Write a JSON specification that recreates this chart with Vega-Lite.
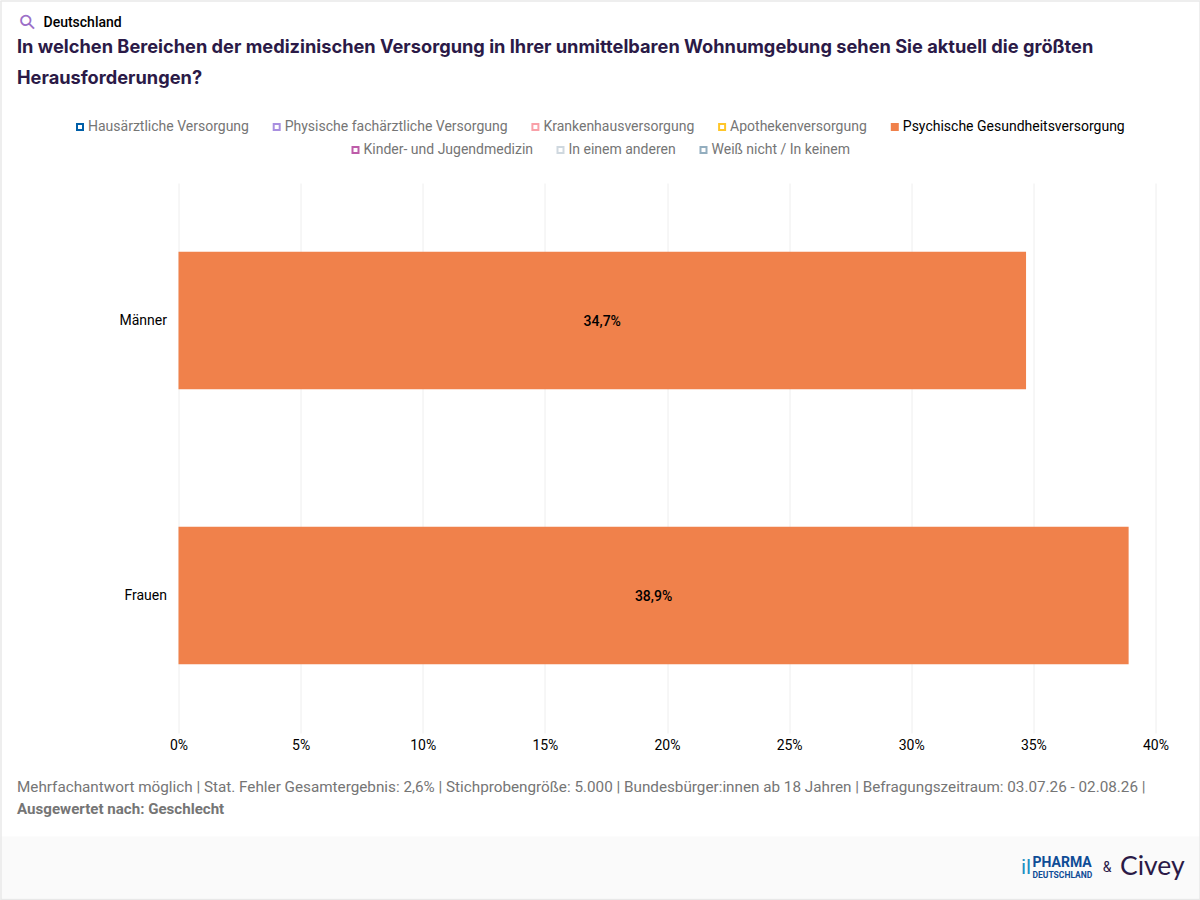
{
  "$schema": "https://vega.github.io/schema/vega-lite/v6.json",
  "autosize": "none",
  "background": "white",
  "padding": {"left": 178.5, "top": 183, "right": 44.5, "bottom": 167},
  "width": 977,
  "height": 550,
  "title": {
    "text": ["In welchen Bereichen der medizinischen Versorgung in Ihrer unmittelbaren Wohnumgebung sehen Sie aktuell die größten", "Herausforderungen?"],
    "anchor": "start",
    "frame": "group",
    "dx": -161.5,
    "offset": -88,
    "font": "Inter",
    "fontSize": 18.23,
    "fontWeight": 700,
    "color": "#2B1A47",
    "lineHeight": 31
  },
  "data": {
    "values": [
      {"gruppe": "Männer", "kategorie": "Psychische Gesundheitsversorgung", "wert": 34.7, "beschriftung": "34,7%"},
      {"gruppe": "Frauen", "kategorie": "Psychische Gesundheitsversorgung", "wert": 38.9, "beschriftung": "38,9%"}
    ]
  },
  "resolve": {"scale": {"x": "independent"}, "axis": {"x": "independent"}},
  "layer": [
    {
      "data": {"values": []},
      "mark": "rule",
      "encoding": {
        "x": {"field": "p", "type": "quantitative", "scale": {"domain": [0, 1], "range": [-178.5, 1021.5]},
          "axis": {"orient": "bottom", "offset": 134, "domainColor": "#FAFAFA", "domainWidth": 62, "ticks": false, "labels": false, "grid": false, "title": null}}
      }
    },
    {
      "data": {"values": []},
      "mark": "rule",
      "encoding": {
        "x": {"field": "p", "type": "quantitative", "scale": {"domain": [0, 1], "range": [-178.5, 1021.5]},
          "axis": {"orient": "top", "offset": 182.5, "domainColor": "#E8E8E8", "domainWidth": 1.5, "values": [0.0006, 0.9994], "tickColor": "#E8E8E8", "tickWidth": 1.5, "tickSize": -900, "labels": false, "grid": false, "title": null}}
      }
    },
    {
      "data": {"values": []},
      "mark": "rule",
      "encoding": {
        "x": {"field": "p", "type": "quantitative", "scale": {"domain": [0, 1], "range": [-178.5, 1021.5]},
          "axis": {"orient": "bottom", "offset": 166, "domainColor": "#E8E8E8", "domainWidth": 1.5, "ticks": false, "labels": false, "grid": false, "title": null}}
      }
    },
    {
      "mark": {"type": "bar", "clip": false, "fill": "#F0814B", "strokeWidth": 0},
      "encoding": {
        "x": {
          "field": "wert",
          "type": "quantitative",
          "scale": {"domain": [0, 40], "nice": false},
          "axis": {
            "orient": "bottom",
            "values": [0, 5, 10, 15, 20, 25, 30, 35, 40],
            "labelExpr": "datum.value + '%'",
            "labelFont": "Roboto",
            "labelFontSize": 14,
            "labelColor": "#000000",
            "labelPadding": 5,
            "labelFlush": false,
            "ticks": false,
            "domain": false,
            "grid": true,
            "gridColor": "#EEEEEE",
            "gridWidth": 1,
            "title": null
          }
        },
        "y": {
          "field": "gruppe",
          "type": "nominal",
          "sort": null,
          "scale": {"domain": ["Männer", "Frauen"], "paddingInner": 0.5, "paddingOuter": 0.25},
          "axis": {
            "labelFont": "Roboto",
            "labelFontSize": 14,
            "labelColor": "#000000",
            "labelPadding": 12,
            "labelOffset": 0.5,
            "ticks": false,
            "domain": false,
            "title": null
          }
        },
        "stroke": {
          "field": "kategorie",
          "type": "nominal",
          "sort": null,
          "scale": {
            "domain": ["Hausärztliche Versorgung", "Physische fachärztliche Versorgung", "Krankenhausversorgung", "Apothekenversorgung", "Psychische Gesundheitsversorgung"],
            "range": ["#005FA8", "#A98FE0", "#F9A0A8", "#FFC629", "#F0814B"]
          },
          "legend": {
            "title": null,
            "orient": "none",
            "direction": "horizontal",
            "legendX": -105.5,
            "legendY": -63,
            "padding": 0,
            "symbolType": "square",
            "symbolSize": 36,
            "symbolStrokeWidth": 2,
            "labelFont": "Roboto",
            "labelFontSize": 14,
            "labelColor": "#757575",
            "labelOffset": 1,
            "columnPadding": 20.7,
            "labelLimit": 400,
            "encoding": {
              "symbols": {
                "fill": {
                  "condition": {"test": "datum.value === 'Psychische Gesundheitsversorgung'", "value": "#F0814B"},
                  "value": "#FFFFFF"
                }
              },
              "labels": {
                "fill": {
                  "condition": {"test": "datum.value === 'Psychische Gesundheitsversorgung'", "value": "#000000"},
                  "value": "#757575"
                }
              }
            }
          }
        }
      }
    },
    {
      "mark": {"type": "text", "font": "Roboto", "fontSize": 14, "fontWeight": 500, "color": "#000000", "dy": 1},
      "encoding": {
        "x": {"field": "wert", "type": "quantitative", "scale": {"domain": [0, 80], "nice": false}, "axis": null},
        "y": {"field": "gruppe", "type": "nominal", "sort": null},
        "text": {"field": "beschriftung"}
      }
    },
    {
      "data": {"values": []},
      "mark": "bar",
      "encoding": {
        "x": {"field": "p", "type": "quantitative", "scale": {"domain": [0, 1]},
          "axis": {"orient": "bottom", "domain": false, "ticks": false, "labels": false, "grid": false,
            "title": "Deutschland", "titleFont": "Roboto", "titleFontSize": 14, "titleFontWeight": 500, "titleColor": "#000000",
            "titleAlign": "left", "titleBaseline": "middle", "titleAnchor": "start", "titleX": -135.5, "titleY": -711}},
        "fill": {
          "field": "kategorie",
          "type": "nominal",
          "sort": null,
          "scale": {
            "domain": ["Kinder- und Jugendmedizin", "In einem anderen", "Weiß nicht / In keinem"],
            "range": ["#FFFFFF", "#FFFFFF", "#FFFFFF"]
          },
          "legend": {
            "title": null,
            "orient": "none",
            "direction": "horizontal",
            "legendX": 170,
            "legendY": -40,
            "padding": 0,
            "symbolType": "square",
            "symbolSize": 36,
            "symbolStrokeWidth": 2,
            "labelFont": "Roboto",
            "labelFontSize": 14,
            "labelColor": "#757575",
            "labelOffset": 1,
            "columnPadding": 20,
            "labelLimit": 400,
            "encoding": {
              "symbols": {
                "stroke": {
                  "condition": [
                    {"test": "datum.value === 'Kinder- und Jugendmedizin'", "value": "#BE5CA9"},
                    {"test": "datum.value === 'In einem anderen'", "value": "#CFD8DF"}
                  ],
                  "value": "#93AEBF"
                }
              }
            }
          }
        }
      }
    },
    {
      "data": {"values": []},
      "mark": "rule",
      "encoding": {
        "x": {"field": "p", "type": "quantitative", "scale": {"domain": [0, 1]},
          "axis": {"orient": "bottom", "domain": false, "ticks": false, "labels": false, "grid": false,
            "title": "⚲", "titleFont": "DejaVu Sans", "titleFontSize": 20, "titleFontWeight": 400, "titleColor": "#9B6FC8",
            "titleAlign": "center", "titleBaseline": "middle", "titleAngle": -45, "titleX": -151, "titleY": -711}}
      }
    },
    {
      "data": {"values": []},
      "mark": "rule",
      "encoding": {
        "x": {"field": "p", "type": "quantitative", "scale": {"domain": [0, 1]},
          "axis": {"orient": "bottom", "domain": false, "ticks": false, "labels": false, "grid": false,
            "title": "Mehrfachantwort möglich | Stat. Fehler Gesamtergebnis: 2,6% | Stichprobengröße: 5.000 | Bundesbürger:innen ab 18 Jahren | Befragungszeitraum: 03.07.26 - 02.08.26 |",
            "titleFont": "Roboto", "titleFontSize": 15.25, "titleFontWeight": 400, "titleColor": "#757575", "titleLimit": 1200,
            "titleAlign": "left", "titleBaseline": "middle", "titleX": -162, "titleY": 53}}
      }
    },
    {
      "data": {"values": []},
      "mark": "rule",
      "encoding": {
        "x": {"field": "p", "type": "quantitative", "scale": {"domain": [0, 1]},
          "axis": {"orient": "bottom", "domain": false, "ticks": false, "labels": false, "grid": false,
            "title": "Ausgewertet nach: Geschlecht",
            "titleFont": "Roboto", "titleFontSize": 15.1, "titleFontWeight": 700, "titleColor": "#757575",
            "titleAlign": "left", "titleBaseline": "middle", "titleX": -162, "titleY": 75}}
      }
    },
    {
      "data": {"values": []},
      "mark": "rule",
      "encoding": {
        "x": {"field": "p", "type": "quantitative", "scale": {"domain": [0, 1]},
          "axis": {"orient": "bottom", "domain": false, "ticks": false, "labels": false, "grid": false,
            "title": "il", "titleFont": "Roboto", "titleFontSize": 21, "titleFontWeight": 400, "titleColor": "#1C8FC4",
            "titleAlign": "left", "titleBaseline": "middle", "titleX": 842, "titleY": 134}}
      }
    },
    {
      "data": {"values": []},
      "mark": "rule",
      "encoding": {
        "x": {"field": "p", "type": "quantitative", "scale": {"domain": [0, 1]},
          "axis": {"orient": "bottom", "domain": false, "ticks": false, "labels": false, "grid": false,
            "title": "PHARMA", "titleFont": "Roboto", "titleFontSize": 14, "titleFontWeight": 700, "titleColor": "#0F4C96",
            "titleAlign": "left", "titleBaseline": "middle", "titleX": 853.5, "titleY": 129}}
      }
    },
    {
      "data": {"values": []},
      "mark": "rule",
      "encoding": {
        "x": {"field": "p", "type": "quantitative", "scale": {"domain": [0, 1]},
          "axis": {"orient": "bottom", "domain": false, "ticks": false, "labels": false, "grid": false,
            "title": "DEUTSCHLAND", "titleFont": "Roboto", "titleFontSize": 8.5, "titleFontWeight": 700, "titleColor": "#0F4C96",
            "titleAlign": "left", "titleBaseline": "middle", "titleX": 853.5, "titleY": 141}}
      }
    },
    {
      "data": {"values": []},
      "mark": "rule",
      "encoding": {
        "x": {"field": "p", "type": "quantitative", "scale": {"domain": [0, 1]},
          "axis": {"orient": "bottom", "domain": false, "ticks": false, "labels": false, "grid": false,
            "title": "&", "titleFont": "Roboto", "titleFontSize": 14, "titleFontWeight": 400, "titleColor": "#2B1A47",
            "titleAlign": "center", "titleBaseline": "middle", "titleX": 928, "titleY": 134}}
      }
    },
    {
      "data": {"values": []},
      "mark": "rule",
      "encoding": {
        "x": {"field": "p", "type": "quantitative", "scale": {"domain": [0, 1]},
          "axis": {"orient": "bottom", "domain": false, "ticks": false, "labels": false, "grid": false,
            "title": "Civey", "titleFont": "Lato", "titleFontSize": 26.5, "titleFontWeight": 400, "titleColor": "#2B1A47",
            "titleAlign": "left", "titleBaseline": "middle", "titleX": 941, "titleY": 133}}
      }
    }
  ],
  "config": {"view": {"stroke": null}, "font": "Roboto"}
}
